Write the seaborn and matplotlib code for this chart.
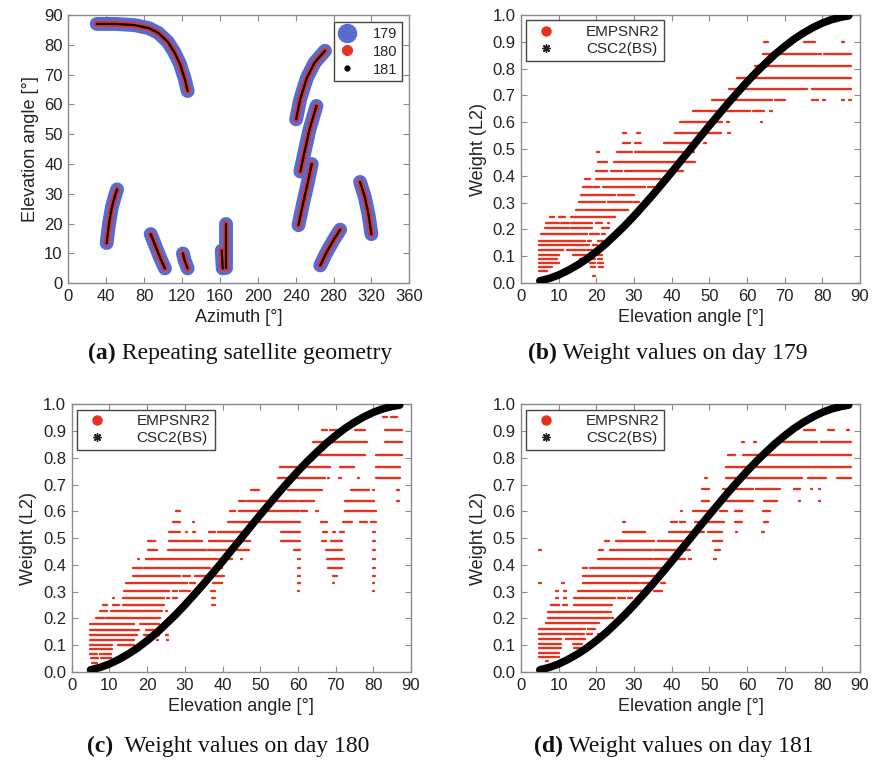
import numpy as np
import pandas as pd
import matplotlib
matplotlib.use("Agg")
import matplotlib.pyplot as plt
from matplotlib.lines import Line2D
import seaborn as sns

# ---------------- data ----------------
# panel (a): satellite tracks (azimuth, elevation)
TRACK_AZ = [
    [30, 50, 70, 85, 95, 105, 112, 118, 123, 126],
    [40.5, 43, 46, 49, 51.5],
    [87, 92, 97, 102],
    [121, 123, 126],
    [167, 167],
    [162, 163],
    [240.5, 245, 252, 260, 271],
    [245, 250, 255, 262],
    [243, 248, 253, 257],
    [266, 272, 280, 287],
    [308, 313, 317, 320],
]
TRACK_EL = [
    [87, 87, 86.6, 85.6, 84, 81, 77.5, 73.5, 68.5, 64.5],
    [13.5, 20, 25.5, 29, 31.5],
    [16.5, 12.5, 8.5, 5],
    [10, 7.5, 5],
    [20, 5],
    [11, 5],
    [55, 62, 69, 74, 78],
    [37.5, 45, 52, 59.5],
    [19.5, 27, 34, 40],
    [6, 10, 14.5, 18],
    [34, 29, 23, 16.5],
]
DAYS = [179, 180, 181]

# CSC2(BS) weight curve
CSC_ELEV = [5, 7.5, 10, 12.5, 15, 17.5, 20, 22.5, 25, 27.5, 30, 32.5, 35, 37.5, 40,
            42.5, 45, 47.5, 50, 52.5, 55, 57.5, 60, 62.5, 65, 67.5, 70, 72.5, 75,
            77.5, 80, 82.5, 85, 87]
CSC_WEIGHT = [0.008, 0.017, 0.03, 0.047, 0.067, 0.09, 0.117, 0.146, 0.179, 0.213,
              0.25, 0.289, 0.329, 0.371, 0.413, 0.457, 0.5, 0.544, 0.587, 0.629,
              0.671, 0.711, 0.75, 0.787, 0.821, 0.854, 0.883, 0.91, 0.933, 0.953,
              0.97, 0.983, 0.992, 0.997]

# EMPSNR2 weights: runs of points (weight level, elevation from, elevation to)
RUNS_179 = [
    (0.026, 19.3, 19.6),
    (0.044, 4.8, 6.8),
    (0.059, 4.8, 8.1), (0.059, 18.8, 19.6), (0.059, 20.8, 21.6),
    (0.073, 4.8, 10), (0.073, 18.3, 19.6), (0.073, 20.6, 21.6),
    (0.088, 4.8, 9.5), (0.088, 15.7, 19.6), (0.088, 20.5, 21.5),
    (0.104, 4.8, 10), (0.104, 14, 19.4), (0.104, 20.5, 21.5),
    (0.122, 4.8, 11.1), (0.122, 12.4, 17), (0.122, 17.5, 19), (0.122, 20.6, 21.5),
    (0.140, 4.8, 18), (0.140, 19.2, 20),
    (0.158, 4.8, 17), (0.158, 17.8, 18.6), (0.158, 20.6, 21.6),
    (0.182, 5.5, 17.5), (0.182, 18.4, 20.5), (0.182, 21.6, 22.3),
    (0.204, 6.4, 12.6), (0.204, 13.4, 18.8), (0.204, 21.5, 23.2),
    (0.225, 6.8, 10), (0.225, 10.6, 12.6), (0.225, 13.4, 18.8), (0.225, 20.1, 21.4), (0.225, 23.1, 23.3),
    (0.247, 7.7, 8.6), (0.247, 10.3, 11.7), (0.247, 13.4, 24.9),
    (0.274, 14.8, 26.7), (0.274, 27.1, 28.4),
    (0.302, 15.5, 22.3), (0.302, 23.2, 29.4), (0.302, 30, 31.3),
    (0.329, 15.9, 24.9), (0.329, 25.8, 29.8),
    (0.358, 16.5, 18.8), (0.358, 19.5, 20.5), (0.358, 21.8, 32.9), (0.358, 33.8, 35.1),
    (0.388, 17, 18.3), (0.388, 20.1, 38.5),
    (0.419, 20.1, 22.7), (0.419, 24, 26.7), (0.419, 27.8, 43),
    (0.453, 20.5, 22.7), (0.453, 24.9, 46.2),
    (0.488, 20.3, 20.7), (0.488, 25.6, 29.5), (0.488, 30.4, 43), (0.488, 44.8, 45.8),
    (0.524, 27.1, 28.9), (0.524, 30.4, 31.8), (0.524, 38, 47), (0.524, 48.7, 49),
    (0.561, 27.2, 27.8), (0.561, 31, 31.4), (0.561, 41, 53), (0.561, 55, 55.4),
    (0.600, 42.4, 53.2), (0.600, 54.8, 55.2), (0.600, 63.7, 64),
    (0.641, 45.7, 60.7), (0.641, 61.6, 64.3), (0.641, 66.3, 66.6),
    (0.682, 50.8, 66.5), (0.682, 67.6, 70.1), (0.682, 77.4, 77.7), (0.682, 78.4, 78.7),
    (0.682, 80.2, 80.5), (0.682, 85.4, 85.7), (0.682, 87.3, 87.5),
    (0.723, 55.2, 75.8), (0.723, 77.4, 87.4),
    (0.765, 57.5, 87.4),
    (0.811, 62.1, 87.4),
    (0.856, 64.3, 78.4), (0.856, 79.2, 79.5), (0.856, 80.6, 87.4),
    (0.900, 64.7, 65.5), (0.900, 75.3, 78), (0.900, 85.4, 85.7),
]
RUNS_180 = [
    (0.020, 5.7, 6.4),
    (0.035, 5.5, 6.6),
    (0.051, 5.1, 7.0), (0.051, 7.9, 10.2),
    (0.067, 4.9, 6.6), (0.067, 7.5, 7.9), (0.067, 8.4, 10.2),
    (0.085, 4.9, 10.6),
    (0.102, 4.9, 10.6), (0.102, 12.4, 16.3),
    (0.120, 4.9, 11), (0.120, 11.7, 16.3), (0.120, 22.6, 22.8), (0.120, 25.3, 25.5),
    (0.137, 4.9, 17.2), (0.137, 19.4, 23), (0.137, 25.2, 25.4),
    (0.157, 4.9, 17.7), (0.157, 19.9, 23.4),
    (0.179, 4.9, 16.3), (0.179, 18.1, 23), (0.179, 25.1, 25.3),
    (0.203, 6.6, 8.4), (0.203, 9.3, 23.4),
    (0.227, 7.5, 9.3), (0.227, 10.6, 23.9), (0.227, 25.1, 25.3),
    (0.251, 8.4, 9.3), (0.251, 11, 12.4), (0.251, 13.7, 24.3), (0.251, 37.2, 38),
    (0.278, 11, 11.2), (0.278, 13.7, 24.3), (0.278, 25.5, 25.7), (0.278, 27, 27.8), (0.278, 37.2, 38),
    (0.304, 14.1, 25.6), (0.304, 27, 27.8), (0.304, 28.7, 31.4), (0.304, 37.1, 37.9),
    (0.304, 60, 60.2), (0.304, 80, 80.2),
    (0.331, 14.6, 30.5), (0.331, 31.4, 32.7), (0.331, 37.6, 39.8), (0.331, 60, 60.4),
    (0.331, 69.3, 69.5), (0.331, 80, 80.2),
    (0.360, 16.3, 28.7), (0.360, 29.6, 31.4), (0.360, 32.7, 40.2), (0.360, 60, 60.4),
    (0.360, 69.3, 70.3), (0.360, 80, 80.3),
    (0.390, 16.3, 18.6), (0.390, 19.4, 36.7), (0.390, 37.6, 39.8), (0.390, 60, 60.4),
    (0.390, 68.1, 71.6), (0.390, 80, 80.3),
    (0.421, 17.6, 17.8), (0.421, 19.9, 38.5), (0.421, 39.3, 42.4), (0.421, 45, 45.2),
    (0.421, 60, 60.4), (0.421, 67.9, 72.1), (0.421, 80, 80.3),
    (0.455, 20.3, 22.5), (0.455, 25.6, 35.4), (0.455, 36.2, 46.8), (0.455, 59, 60.5),
    (0.455, 67.6, 71.6), (0.455, 80, 80.3),
    (0.489, 20.3, 21.2), (0.489, 21.8, 22), (0.489, 25.9, 34.5), (0.489, 36.5, 47.3),
    (0.489, 55.7, 60.5), (0.489, 66.5, 67.3), (0.489, 68.8, 71.5), (0.489, 80, 80.3),
    (0.524, 25.9, 28.7), (0.524, 30.4, 30.6), (0.524, 32.3, 32.5), (0.524, 36.6, 38),
    (0.524, 38.9, 45.5), (0.524, 55.7, 60.5), (0.524, 66.8, 67.5), (0.524, 69.5, 69.8),
    (0.524, 71.2, 72), (0.524, 80, 80.3),
    (0.561, 27, 28.7), (0.561, 32.2, 32.4), (0.561, 41.5, 60.5), (0.561, 66.3, 67.6),
    (0.561, 72, 74.3), (0.561, 76.5, 78.2), (0.561, 79.6, 80.5),
    (0.600, 27.8, 28.7), (0.600, 42, 43.3), (0.600, 44.6, 60.1), (0.600, 61, 62.3),
    (0.600, 65, 65.2), (0.600, 72.5, 79.1), (0.600, 79.6, 80.5),
    (0.640, 44.6, 45.9), (0.640, 46.5, 59.7), (0.640, 60.5, 64.1), (0.640, 72.5, 80),
    (0.640, 86.5, 86.7),
    (0.680, 47.7, 49.5), (0.680, 57.5, 66.3), (0.680, 74.3, 78.7), (0.680, 80, 80.2),
    (0.680, 86.5, 86.7),
    (0.724, 54.8, 67.2), (0.724, 68, 68.2), (0.724, 71.1, 71.3), (0.724, 76, 76.2),
    (0.724, 80.7, 87),
    (0.767, 55.3, 68.5), (0.767, 71.2, 74.7), (0.767, 80.7, 87),
    (0.811, 65.9, 77.8), (0.811, 80.9, 87.5),
    (0.858, 64.1, 78.2), (0.858, 83.1, 87.5),
    (0.905, 66.6, 67.5), (0.905, 68.5, 72.1), (0.905, 75.2, 77.8), (0.905, 83.1, 87.5),
    (0.951, 82.7, 83.5), (0.951, 84.9, 86.2),
]
RUNS_181 = [
    (0.042, 6.8, 7.2),
    (0.057, 5, 9.1), (0.057, 9.8, 10),
    (0.072, 5, 9.9),
    (0.088, 5, 10.4), (0.088, 14.3, 15.7),
    (0.105, 5, 10.4), (0.105, 13.9, 16.1),
    (0.122, 5, 10.4), (0.122, 12.1, 17), (0.122, 20.5, 20.7),
    (0.141, 5, 10.4), (0.141, 10.8, 16.7), (0.141, 17.5, 18.8), (0.141, 20.5, 20.7),
    (0.161, 5, 17), (0.161, 17.8, 19.6),
    (0.182, 6.8, 20.5),
    (0.203, 7.3, 22.3), (0.203, 22.7, 23.2), (0.203, 24, 24.2),
    (0.225, 7.3, 23.2), (0.225, 23.6, 23.8),
    (0.250, 8.1, 9.9), (0.250, 11.2, 12.1), (0.250, 14.3, 24.1),
    (0.275, 9.4, 9.6), (0.275, 11.6, 11.8), (0.275, 14.3, 24.9), (0.275, 25.8, 27.6),
    (0.275, 28.4, 29.3), (0.275, 31.5, 31.7),
    (0.303, 9.4, 9.6), (0.303, 11.6, 11.8), (0.303, 15.2, 28.5), (0.303, 29.4, 33),
    (0.303, 35.5, 37.3),
    (0.331, 4.9, 5.1), (0.331, 11.1, 11.3), (0.331, 16.5, 31.1), (0.331, 32, 34.7),
    (0.331, 37.3, 38.2),
    (0.360, 16.5, 33.3), (0.360, 33.8, 35.5),
    (0.390, 16.5, 17.4), (0.390, 18.3, 20.5), (0.390, 20.9, 33.3), (0.390, 33.8, 37.3),
    (0.422, 20.5, 34.7), (0.422, 35.5, 43.5), (0.422, 44.7, 44.9), (0.422, 51.4, 51.6),
    (0.456, 4.9, 5.1), (0.456, 20.9, 21.8), (0.456, 23.6, 24.9), (0.456, 25.4, 34.7),
    (0.456, 35.5, 44.8), (0.456, 51.5, 52.8),
    (0.489, 22.3, 23.2), (0.489, 25.4, 35.1), (0.489, 36.4, 44.8), (0.489, 51, 53.3),
    (0.524, 27.1, 30.2), (0.524, 30.7, 32.9), (0.524, 39.5, 48.4), (0.524, 49.7, 53.3),
    (0.524, 57.1, 57.3), (0.524, 64.2, 64.4),
    (0.561, 27.3, 27.5), (0.561, 40, 41.3), (0.561, 42.2, 43.5), (0.561, 46.2, 53.7),
    (0.561, 56.8, 58.5), (0.561, 64.5, 65.6),
    (0.600, 42.5, 42.7), (0.600, 45.7, 51.5), (0.600, 52.8, 54.6), (0.600, 56.8, 58.5),
    (0.600, 64.3, 66),
    (0.640, 48.1, 49.7), (0.640, 54.6, 61.6), (0.640, 64.7, 67.8), (0.640, 73.9, 74.1),
    (0.640, 79.2, 79.4),
    (0.683, 48.1, 49.7), (0.683, 53.7, 61.6), (0.683, 62.5, 68.7), (0.683, 72.7, 74),
    (0.683, 77, 77.2), (0.683, 79.2, 79.4),
    (0.724, 49, 49.2), (0.724, 54.6, 74.4), (0.724, 76.2, 81), (0.724, 84.1, 87.5),
    (0.767, 54.6, 87.5),
    (0.811, 55, 56.8), (0.811, 59, 87.5),
    (0.858, 58.9, 59.1), (0.858, 62, 62.2), (0.858, 69.6, 78.4), (0.858, 79.8, 87.5),
    (0.904, 75.3, 78), (0.904, 81.5, 82.9), (0.904, 86.7, 86.9),
]

ELEV_TICKS = list(range(0, 91, 10))
WEIGHT_TICKS = [0.0, 0.1, 0.2, 0.3, 0.4, 0.5, 0.6, 0.7, 0.8, 0.9, 1.0]
AZ_TICKS = list(range(0, 361, 40))

# ---------------- style ----------------
sns.set_theme(style="white")
plt.rcParams["font.family"] = ["Liberation Sans", "DejaVu Sans"]
plt.rcParams["lines.solid_capstyle"] = "round"
plt.rcParams["lines.solid_joinstyle"] = "round"

RED = "#e5321f"
BLUE = "#5a6bd0"
SPINE = "#8a8a8a"
TXT = "#222222"

W, H = 872, 761
fig = plt.figure(figsize=(W / 100, H / 100), dpi=100)


def add_ax(l, r, t, b):
    return fig.add_axes([l / W, 1 - b / H, (r - l) / W, (b - t) / H])


def style_ax(ax):
    for s in ax.spines.values():
        s.set_color(SPINE)
        s.set_linewidth(1.0)
    ax.tick_params(direction="in", length=4, width=0.8, color=SPINE,
                   top=True, right=True, bottom=True, left=True,
                   labelsize=12, labelcolor=TXT, pad=4)
    ax.xaxis.label.set_color(TXT)
    ax.yaxis.label.set_color(TXT)


def caption(x, y, bold, rest):
    t = fig.text(x / W, 1 - y / H, bold, fontsize=17, fontweight="bold",
                 family=["Liberation Serif", "DejaVu Serif"], va="baseline", ha="left",
                 color="#111111")
    ann = plt.annotate(rest, xy=(1, 0), xycoords=t, va="bottom", ha="left",
                       fontsize=17, family=["Liberation Serif", "DejaVu Serif"],
                       color="#111111", annotation_clip=False)
    return t, ann


# ---------------- panel (a) ----------------
axa = add_ax(68.3, 409.3, 15, 283.3)
rows = []
for day in DAYS:
    for k, (azs, els) in enumerate(zip(TRACK_AZ, TRACK_EL)):
        for i, (az, el) in enumerate(zip(azs, els)):
            rows.append({"az": az, "el": el, "track": k, "order": i, "day": day})
df_a = pd.DataFrame(rows)
sns.lineplot(data=df_a, x="az", y="el", hue="day", size="day", units="track",
             estimator=None, sort=False, palette={179: BLUE, 180: RED, 181: "black"},
             sizes={179: 10, 180: 4.2, 181: 1.6}, legend=False, ax=axa)
axa.set_xlim(0, 360)
axa.set_ylim(0, 90)
axa.set_xticks(AZ_TICKS)
axa.set_yticks(list(range(0, 91, 10)))
axa.set_xlabel("Azimuth [°]", fontsize=13)
axa.set_ylabel("Elevation angle [°]", fontsize=13)
style_ax(axa)
h_a = [Line2D([], [], ls="", marker="o", ms=13, color=BLUE),
       Line2D([], [], ls="", marker="o", ms=7, color=RED),
       Line2D([], [], ls="", marker="o", ms=3.5, color="black")]
leg = axa.legend(h_a, [str(d) for d in DAYS], loc="upper right", fontsize=10.5,
                 frameon=True, fancybox=False, framealpha=1, edgecolor="#444444",
                 borderpad=0.3, handletextpad=1.2, labelspacing=0.27,
                 borderaxespad=0.5, handlelength=1.2)
leg.get_frame().set_linewidth(1.0)


# ---------------- weight panels ----------------
def weight_panel(ax, runs):
    lv = [r[0] for r in runs]
    x0 = [r[1] - 0.1 for r in runs]
    x1 = [r[2] + 0.1 for r in runs]
    ax.hlines(lv, x0, x1, colors=RED, linewidth=1.7, capstyle="round", zorder=2)
    sns.lineplot(x=CSC_ELEV, y=CSC_WEIGHT, color="black", linewidth=5.5, ax=ax,
                 zorder=3)
    ax.set_xlim(0, 90)
    ax.set_ylim(0, 1.0)
    ax.set_xticks(ELEV_TICKS)
    ax.set_yticks(WEIGHT_TICKS)
    ax.set_yticklabels([f"{v:.1f}" for v in WEIGHT_TICKS])
    ax.set_xlabel("Elevation angle [°]", fontsize=13)
    ax.set_ylabel("Weight (L2)", fontsize=13)
    style_ax(ax)
    hs = [Line2D([], [], ls="", marker="o", ms=6.5, color=RED),
          Line2D([], [], ls="", marker=(8, 2, 0), ms=6, color="#222222", mew=1.0)]
    lg = ax.legend(hs, ["EMPSNR2", "CSC2(BS)"], loc="upper left", fontsize=11,
                   frameon=True, fancybox=False, framealpha=1, edgecolor="#444444",
                   borderpad=0.3, handletextpad=1.6, labelspacing=0.2,
                   borderaxespad=0.35, handlelength=2.0)
    lg.get_frame().set_linewidth(1.0)


axb = add_ax(521, 860, 15, 283)
weight_panel(axb, RUNS_179)
axc = add_ax(71.7, 411, 404.3, 672)
weight_panel(axc, RUNS_180)
axd = add_ax(521, 860, 404.3, 672)
weight_panel(axd, RUNS_181)

# ---------------- captions ----------------
caption(88, 359, "(a)", " Repeating satellite geometry")
caption(528, 359, "(b)", " Weight values on day 179")
caption(87, 752, "(c)", "  Weight values on day 180")
caption(534, 752, "(d)", " Weight values on day 181")

fig.savefig("out.png", dpi=100)
